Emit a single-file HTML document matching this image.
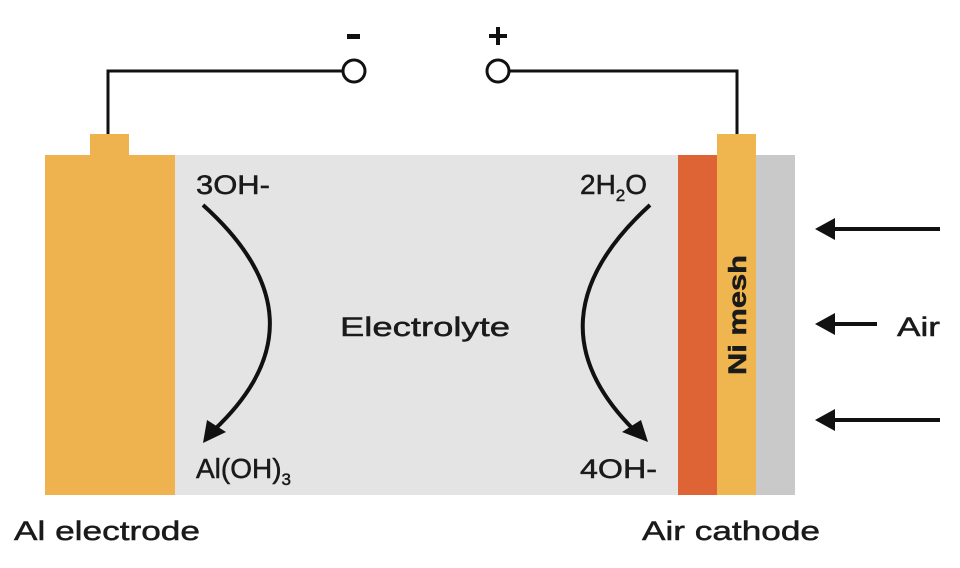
<!DOCTYPE html>
<html><head><meta charset="utf-8"><style>
body{margin:0;background:#fff;}
svg{display:block;}
text{font-family:"Liberation Sans",sans-serif;fill:#1a1a1a;}
.t{stroke:#1a1a1a;stroke-width:0.5;}
</style></head><body>
<svg width="960" height="568" viewBox="0 0 960 568" xmlns="http://www.w3.org/2000/svg">
<rect x="0" y="0" width="960" height="568" fill="#fff"/>
<rect x="175" y="155" width="620" height="340" fill="#e4e4e4"/>
<rect x="45" y="155" width="130" height="340" fill="#eeb24e"/>
<rect x="90" y="134" width="39" height="22" fill="#eeb24e"/>
<rect x="678" y="155" width="39" height="340" fill="#de6435"/>
<rect x="717" y="134" width="39" height="361" fill="#efb54f"/>
<rect x="756" y="155" width="39" height="340" fill="#c9c9c9"/>
<polyline points="108,134 108,71 343,71" fill="none" stroke="#111" stroke-width="3"/>
<circle cx="354" cy="71" r="11" fill="#fff" stroke="#111" stroke-width="3"/>
<polyline points="737,134 737,71 509,71" fill="none" stroke="#111" stroke-width="3"/>
<circle cx="498" cy="71" r="11" fill="#fff" stroke="#111" stroke-width="3"/>
<rect x="347" y="34" width="13" height="5" fill="#111"/>
<rect x="489" y="34" width="18" height="4" fill="#111"/>
<rect x="496" y="27" width="4" height="18" fill="#111"/>
<path d="M203,205 Q331,320 214,430" fill="none" stroke="#111" stroke-width="4"/>
<polygon points="203,443 207,420 226,432" fill="#111"/>
<path d="M650,205 Q524,320 634,430" fill="none" stroke="#111" stroke-width="4"/>
<polygon points="648,442 622,432 641,420" fill="#111"/>
<g stroke="#111" stroke-width="4"><line x1="940" y1="229" x2="830" y2="229"/><line x1="877" y1="324" x2="830" y2="324"/><line x1="940" y1="420" x2="830" y2="420"/></g>
<g fill="#111"><polygon points="815,229 835,218 835,240"/><polygon points="815,324 835,313 835,335"/><polygon points="815,420 835,409 835,431"/></g>
<g font-size="27" class="t">
<text x="196" y="194" textLength="74" lengthAdjust="spacingAndGlyphs">3OH-</text>
<text x="196" y="478" font-size="28">Al(OH)<tspan font-size="17" dy="7">3</tspan></text>
<text x="580" y="194" font-size="28">2H<tspan font-size="17" dy="7">2</tspan><tspan dy="-7">O</tspan></text>
<text x="580" y="478" textLength="77" lengthAdjust="spacingAndGlyphs">4OH-</text>
<text x="340" y="336" textLength="170" lengthAdjust="spacingAndGlyphs">Electrolyte</text>
<text x="897" y="336" textLength="43" lengthAdjust="spacingAndGlyphs">Air</text>
<text x="14" y="540" textLength="186" lengthAdjust="spacingAndGlyphs">Al electrode</text>
<text x="642" y="540" textLength="178" lengthAdjust="spacingAndGlyphs">Air cathode</text>
<text transform="translate(746,315) rotate(-90)" text-anchor="middle" font-weight="bold" font-size="25" textLength="120" lengthAdjust="spacingAndGlyphs">Ni mesh</text>
</g>
</svg>
</body></html>
